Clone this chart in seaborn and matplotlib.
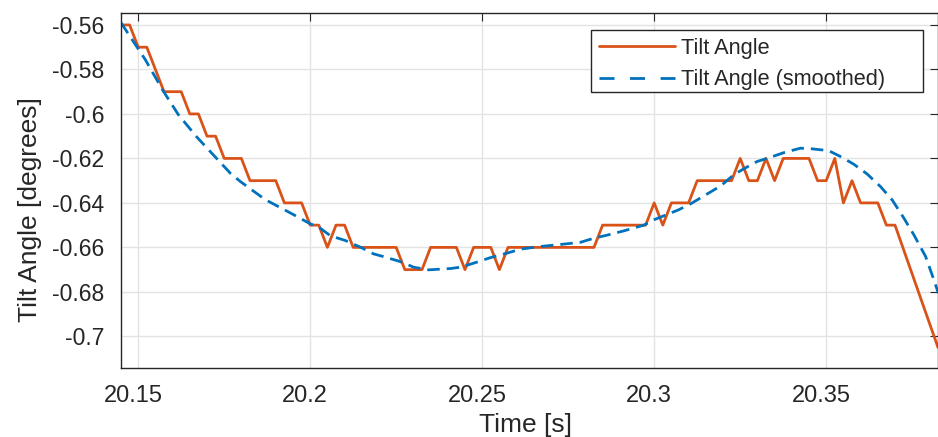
import numpy as np
import pandas as pd
import matplotlib
matplotlib.use("Agg")
import matplotlib.pyplot as plt
import matplotlib.transforms as mtransforms
from matplotlib.patches import Rectangle
import seaborn as sns

# raw tilt angle, one sample every 2.5 ms starting at 20.145 s
t_start = 20.145
dt = 0.0025
raw_vals = [
    -0.56, -0.56, -0.57, -0.57, -0.58, -0.59, -0.59, -0.59, -0.60, -0.60,
    -0.61, -0.61, -0.62, -0.62, -0.62, -0.63, -0.63, -0.63, -0.63, -0.64,
    -0.64, -0.64, -0.65, -0.65, -0.66, -0.65, -0.65, -0.66, -0.66, -0.66,
    -0.66, -0.66, -0.66, -0.67, -0.67, -0.67, -0.66, -0.66, -0.66, -0.66,
    -0.67, -0.66, -0.66, -0.66, -0.67, -0.66, -0.66, -0.66, -0.66, -0.66,
    -0.66, -0.66, -0.66, -0.66, -0.66, -0.66, -0.65, -0.65, -0.65, -0.65,
    -0.65, -0.65, -0.64, -0.65, -0.64, -0.64, -0.64, -0.63, -0.63, -0.63,
    -0.63, -0.63, -0.62, -0.63, -0.63, -0.62, -0.63, -0.62, -0.62, -0.62,
    -0.62, -0.63, -0.63, -0.62, -0.64, -0.63, -0.64, -0.64, -0.64, -0.65,
    -0.65, -0.661, -0.672, -0.683, -0.694, -0.705,
]
raw_time = t_start + dt * np.arange(len(raw_vals))

# smoothed curve
smooth_time = [
    20.1450, 20.1521, 20.1572, 20.1617, 20.1671, 20.1710, 20.1768, 20.1797,
    20.1869, 20.1947, 20.2000, 20.2025, 20.2059, 20.2102, 20.2146, 20.2184,
    20.2219, 20.2262, 20.2301, 20.2344, 20.2408, 20.2437, 20.2475, 20.2524,
    20.2572, 20.2611, 20.2669, 20.2727, 20.2786, 20.2824, 20.2863, 20.2911,
    20.2970, 20.2999, 20.3028, 20.3071, 20.3106, 20.3144, 20.3193, 20.3231,
    20.3260, 20.3299, 20.3338, 20.3377, 20.3425, 20.3459, 20.3507, 20.3542,
    20.3580, 20.3619, 20.3658, 20.3692, 20.3726, 20.3755, 20.3789, 20.3813,
    20.3826,
]
smooth_vals = [
    -0.5590, -0.5757, -0.5895, -0.6004, -0.6105, -0.6170, -0.6267, -0.6304,
    -0.6385, -0.6449, -0.6494, -0.6509, -0.6548, -0.6569, -0.6599, -0.6629,
    -0.6644, -0.6664, -0.6689, -0.6701, -0.6695, -0.6689, -0.6671, -0.6646,
    -0.6626, -0.6608, -0.6596, -0.6587, -0.6577, -0.6559, -0.6545, -0.6526,
    -0.6500, -0.6476, -0.6458, -0.6431, -0.6404, -0.6369, -0.6324, -0.6274,
    -0.6247, -0.6214, -0.6195, -0.6174, -0.6154, -0.6157, -0.6165, -0.6192,
    -0.6226, -0.6270, -0.6327, -0.6387, -0.6469, -0.6544, -0.6641, -0.6746,
    -0.6806,
]

x_ticks = [20.15, 20.2, 20.25, 20.3, 20.35]
x_labels = ["20.15", "20.2", "20.25", "20.3", "20.35"]
y_ticks = [-0.7, -0.68, -0.66, -0.64, -0.62, -0.6, -0.58, -0.56]
y_labels = ["-0.7", "-0.68", "-0.66", "-0.64", "-0.62", "-0.6", "-0.58", "-0.56"]

sns.set_theme(style="whitegrid")
plt.rcParams["font.family"] = ["Liberation Sans", "DejaVu Sans"]

dark = "#262626"
fig = plt.figure(figsize=(9.38, 4.37), dpi=100)
ax = fig.add_axes([0.129, 0.158, 0.871, 0.8124])

sns.lineplot(x=raw_time, y=raw_vals, ax=ax, color="#D95319", linewidth=2,
             label="Tilt Angle", estimator=None, sort=False)
sns.lineplot(x=smooth_time, y=smooth_vals, ax=ax, color="#0072BD", linewidth=2,
             label="Tilt Angle (smoothed)", estimator=None, sort=False,
             dashes=False)
ax.lines[1].set_dashes((4.5, 2.5))

ax.set_xlim(20.145, 20.3825)
ax.set_ylim(-0.7142, -0.5546)
ax.set_xticks(x_ticks)
ax.set_xticklabels(x_labels)
ax.set_yticks(y_ticks)
ax.set_yticklabels(y_labels)

ax.grid(True, color="#e3e3e3", linewidth=1)
for s in ax.spines.values():
    s.set_visible(True)
    s.set_color(dark)
    s.set_linewidth(1)
ax.tick_params(direction="in", length=6, width=0.8, color=dark,
               top=True, right=True, labelcolor=dark)
ax.tick_params(axis="x", pad=12, labelsize=17)
ax.tick_params(axis="y", pad=12, labelsize=16.5)
# x tick labels sit a few pixels left of their ticks in the original
shift = mtransforms.ScaledTranslation(-0.05, 0, fig.dpi_scale_trans)
for lbl in ax.get_xticklabels():
    lbl.set_transform(lbl.get_transform() + shift)

ax.set_xlabel("Time [s]", fontsize=19, color=dark)
ax.xaxis.set_label_coords(0.4957, -0.126)
ax.set_ylabel("Tilt Angle [degrees]", fontsize=19, color=dark)
ax.yaxis.set_label_coords(-0.0967, 0.445)

# MATLAB-style legend: wide box drawn separately
leg = ax.legend(loc="upper left", bbox_to_anchor=(591 / 938, 1 - 30 / 437),
                bbox_transform=fig.transFigure, borderaxespad=0,
                fontsize=15.7, frameon=False,
                handlelength=3.5, handletextpad=0.3, labelspacing=0.49,
                borderpad=0.35)
leg.set_zorder(6)
leg.get_lines()[1].set_dashes((5.4, 5.6))
ax.add_patch(Rectangle((591 / 938, 1 - 92 / 437), 332 / 938, 62 / 437,
                       transform=fig.transFigure, facecolor="white",
                       edgecolor=dark, linewidth=1, zorder=5, clip_on=False))

fig.savefig("out.png", dpi=100)
